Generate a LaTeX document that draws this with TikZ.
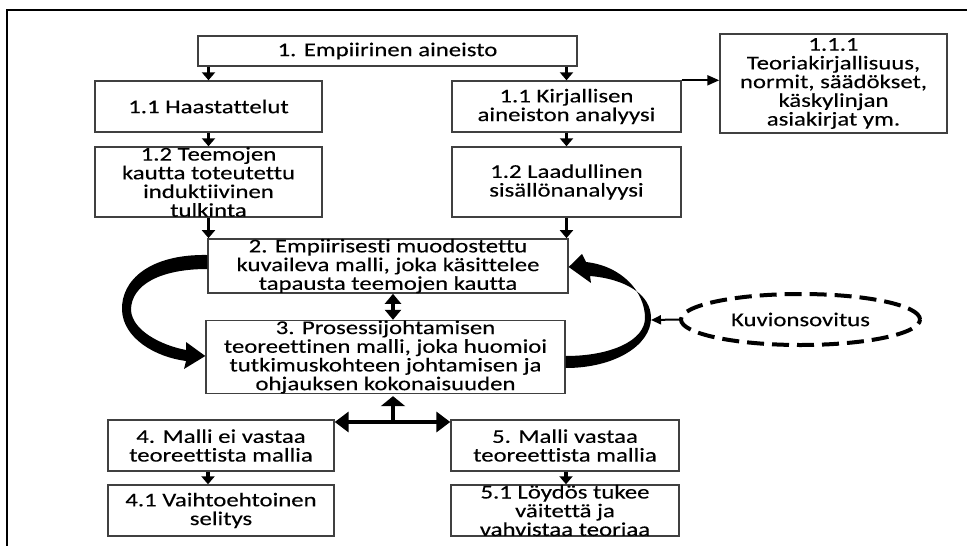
\documentclass[tikz,border=0pt]{standalone}
\usepackage{fontspec}
\setmainfont{Carlito}[FakeStretch=1.27,FakeBold=0.25,Ligatures=NoCommon]
\usetikzlibrary{arrows.meta,shapes.geometric,calc}
\begin{document}
\begin{tikzpicture}[x=1pt,y=-1pt,
  font=\fontsize{19.5}{18.7}\selectfont,
  box/.style={draw=black!75,line width=1.4pt,inner sep=0pt,align=center},
  arr/.style={line width=3.5pt,-{Triangle[width=13pt,length=8pt]}},
  thinarr/.style={line width=2pt,-{Triangle[width=10pt,length=12pt]}},
  dblarr/.style={line width=4pt,{Triangle[width=16pt,length=10pt]}-{Triangle[width=16pt,length=10pt]}},
  bigarr/.style={line width=4pt,-{Triangle[width=24pt,length=10pt]}},
  sidearr/.style={line width=4pt,{Triangle[width=20pt,length=14pt]}-{Triangle[width=20pt,length=14pt]}},
  band/.style={fill=black,draw=none}]
\useasboundingbox (0,0) rectangle (967,546);

% outer frame
\draw[line width=2pt] (7,546) -- (7,10) -- (967,10);

% boxes
\node[box,minimum width=379pt,minimum height=30pt] (e1) at (387.5,51) {1. Empiirinen aineisto};
\node[box,minimum width=227pt,minimum height=51pt] (h1) at (208.5,106.5) {1.1 Haastattelut};
\node[box,minimum width=227pt,minimum height=70pt] (h2) at (208.5,182) {1.2 Teemojen\\kautta toteutettu\\induktiivinen\\tulkinta};
\node[box,minimum width=229pt,minimum height=51pt] (k1) at (566.5,106.5) {1.1 Kirjallisen\\aineiston analyysi};
\node[box,minimum width=229pt,minimum height=70pt] (k2) at (566.5,182) {1.2 Laadullinen\\sisällönanalyysi};
\node[box,minimum width=227pt,minimum height=99pt] (t111) at (833.5,83.5) {1.1.1\\Teoriakirjallisuus,\\normit, säädökset,\\käskylinjan\\asiakirjat ym.};
\node[box,minimum width=360pt,minimum height=52pt] (m2) at (388,266) {2. Empiirisesti muodostettu\\kuvaileva malli, joka käsittelee\\tapausta teemojen kautta};
\node[box,minimum width=359pt,minimum height=70pt] (m3) at (385.5,357) {3. Prosessijohtamisen\\teoreettinen malli, joka huomioi\\tutkimuskohteen johtamisen ja\\ohjauksen kokonaisuuden};
\node[box,minimum width=226pt,minimum height=51pt] (m4) at (221,445.5) {4. Malli ei vastaa\\teoreettista mallia};
\node[box,minimum width=226pt,minimum height=51pt] (m41) at (221,510.5) {4.1 Vaihtoehtoinen\\selitys};
\node[box,minimum width=228pt,minimum height=51pt] (m5) at (565,445.5) {5. Malli vastaa\\teoreettista mallia};
\node[box,minimum width=228pt,minimum height=51pt] (m51) at (565,510.5) {5.1 Löydös tukee\\väitettä ja\\vahvistaa teoriaa};
\node[ellipse,draw=black,line width=4pt,dash pattern=on 17pt off 8pt,
      minimum width=239pt,minimum height=51pt,inner sep=0pt] (kv) at (800.5,319.5) {Kuvionsovitus};

% straight connectors
\draw[arr] (e1.south -| h1.north) -- (h1.north);
\draw[arr] (e1.south -| k1.north) -- (k1.north);
\draw[arr] (h1.south) -- (h2.north);
\draw[arr] (k1.south) -- (k2.north);
\draw[arr] (h2.south) -- (h2.south |- m2.north);
\draw[arr] (k2.south) -- (k2.south |- m2.north);
\draw[thinarr] (k1.north east) -- (t111.west |- k1.north east);

\coordinate (c23) at (393,300);
\draw[dblarr] (m2.south -| c23) -- (m3.north -| c23);

\coordinate (tj) at (393,422);
\draw[bigarr] (tj) -- ($(m3.south -| tj)+(0,2)$);
\draw[sidearr] (m4.east |- tj) -- (m5.west |- tj);

\coordinate (c4) at (208,0);
\coordinate (c5) at (566,0);
\draw[arr] (m4.south -| c4) -- (m41.north -| c4);
\draw[arr] (m5.south -| c5) -- (m51.north -| c5);

% curved feedback arrows
\fill[band] ($(m2.west)+(0,-11)$)
  .. controls (150,254) and (121,280) .. (122,310)
  .. controls (123,338) and (155,357) .. (186,361)
  -- (184,369) -- ($(m3.west)+(0,-1)$) -- (186,342) -- (186,350)
  .. controls (160,345) and (132,330) .. (131,310)
  .. controls (131,285) and (160,269) .. ($(m2.west)+(0,3)$) -- cycle;

\fill[band] ($(m3.east)+(0,11)$)
  .. controls (615,368) and (651,345) .. (651,318)
  .. controls (651,294) and (625,279) .. (590,276)
  -- (591,283) -- ($(m2.east)+(0,1)$) -- (582,254) -- (586,262)
  .. controls (622,266) and (645,292) .. (645,318)
  .. controls (645,340) and (612,356) .. ($(m3.east)+(0,-1)$) -- cycle;

\coordinate (kvend) at (651,320);
\draw[line width=2pt,-{Triangle[width=9pt,length=10pt]}] (kv.west) -- (kvend);
\end{tikzpicture}
\end{document}
